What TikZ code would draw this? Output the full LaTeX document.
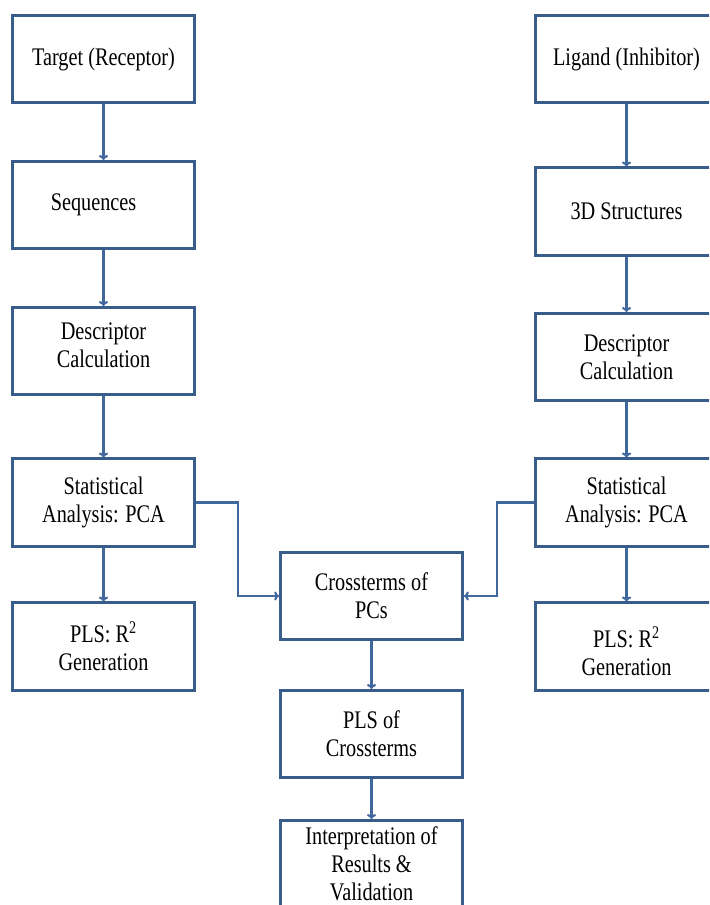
\documentclass[tikz,border=0pt]{standalone}
\usepackage{fontspec}
\setmainfont{Liberation Serif}[FakeStretch=0.8]
\usetikzlibrary{calc,arrows.meta}
\definecolor{boxblue}{HTML}{385D8A}
\definecolor{linkblue}{HTML}{41679F}

\begin{document}
\begin{tikzpicture}[x=0.025cm,y=-0.025cm,
	every node/.style={draw=boxblue,line width=2pt,fill=white,minimum width=4.55cm,minimum height=2.18cm,align=center,inner sep=0pt,font=\fontsize{18}{20}\selectfont},
	link/.style={draw=linkblue,line width=1.5pt,-{To[length=3.5pt,width=6.5pt]}}]
	\path[use as bounding box,clip] (0,0) rectangle (709,905);

	\node (target) at (103.5,59) {Target (Receptor)};
	\node (seq) at (103.5,205) {\hspace*{-0.5cm}Sequences};
	\node (descL) at (103.5,351) {Descriptor\\Calculation\rule[-8pt]{0pt}{1pt}};
	\node (statL) at (103.5,502.5) {Statistical\\Analysis: PCA};
	\node (plsL) at (103.5,646.5) {PLS: R\textsuperscript{2}\\Generation};

	\node (ligand) at (626.5,59) {Ligand (Inhibitor)};
	\node (struct) at (626.5,211.5) {3D Structures};
	\node (descR) at (626.5,357) {Descriptor\\Calculation};
	\node (statR) at (626.5,502.5) {Statistical\\Analysis: PCA};
	\node (plsR) at (626.5,646.5) {\rule{0pt}{22pt}PLS: R\textsuperscript{2}\\Generation};

	\node (cross) at (371.5,596) {Crossterms of\\PCs};
	\node (plsX) at (371.5,734) {PLS of\\Crossterms};
	\node (interp) at (371.5,864) {Interpretation of\\Results \&\\Validation};

	\draw[link] (target) -- (seq);
	\draw[link] (seq) -- (descL);
	\draw[link] (descL) -- (statL);
	\draw[link] (statL) -- (plsL);
	\draw[link] (ligand) -- (struct);
	\draw[link] (struct) -- (descR);
	\draw[link] (descR) -- (statR);
	\draw[link] (statR) -- (plsR);
	\draw[link] (statL.east) -- ++(42,0) |- (cross.west);
	\draw[link] (statR.west) -- ++(-37,0) |- (cross.east);
	\draw[link] (cross) -- (plsX);
	\draw[link] (plsX) -- (interp);
\end{tikzpicture}
\end{document}
